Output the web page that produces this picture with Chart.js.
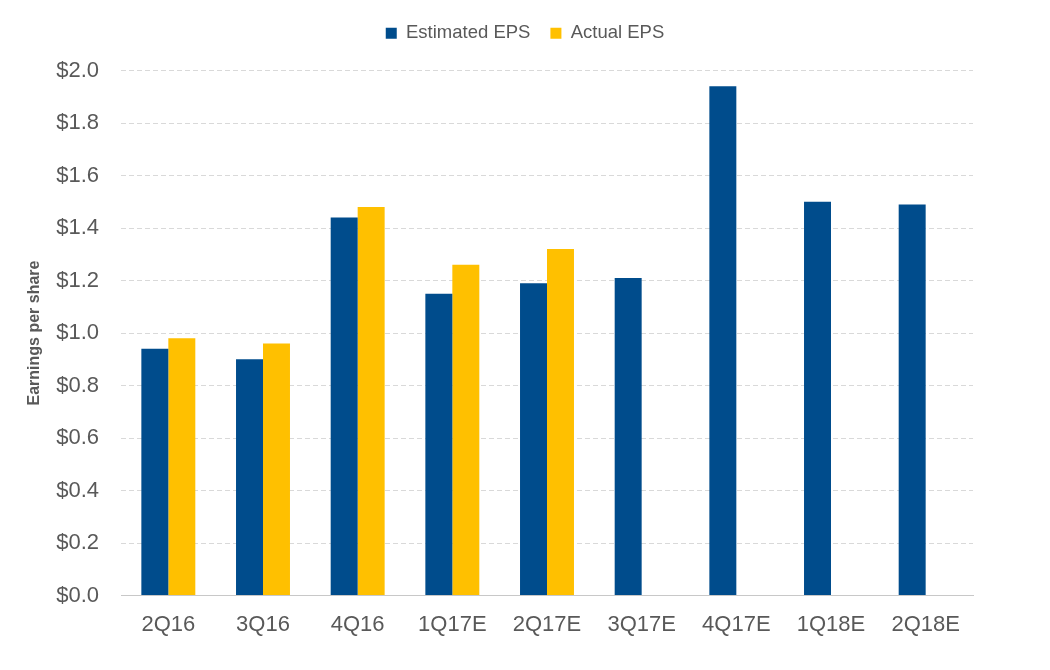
<!DOCTYPE html>
<html>
<head>
<meta charset="utf-8">
<script src="https://cdn.jsdelivr.net/npm/chart.js@4/dist/chart.umd.min.js"></script>
<style>
html,body{margin:0;padding:0;background:#fff;}
#wrap{width:1050px;height:670px;position:relative;}
</style>
</head>
<body>
<div id="wrap"><canvas id="c" width="1050" height="670"></canvas></div>
<script>
const categories = ['2Q16','3Q16','4Q16','1Q17E','2Q17E','3Q17E','4Q17E','1Q18E','2Q18E'];
const estimatedEPS = [0.94, 0.90, 1.44, 1.15, 1.19, 1.21, 1.94, 1.50, 1.49];
const actualEPS = [0.98, 0.96, 1.48, 1.26, 1.32, null, null, null, null];
const yTicks = [0, 0.2, 0.4, 0.6, 0.8, 1.0, 1.2, 1.4, 1.6, 1.8, 2.0];

Chart.defaults.font.family = 'Arial, "Liberation Sans", sans-serif';
Chart.defaults.color = '#595959';

const legendSpace = {
  id: 'legendSpace',
  beforeInit(chart) {
    const orig = chart.legend.fit;
    chart.legend.fit = function() { orig.call(this); this.height += 18; };
  }
};

new Chart(document.getElementById('c'), {
  type: 'bar',
  data: {
    labels: categories,
    datasets: [
      {label: 'Estimated EPS', data: estimatedEPS, backgroundColor: '#004C8C', borderWidth: 0},
      {label: 'Actual EPS', data: actualEPS, backgroundColor: '#FFC000', borderWidth: 0}
    ]
  },
  plugins: [legendSpace],
  options: {
    responsive: false,
    animation: false,
    layout: {padding: {left: 0, right: 0, top: 4, bottom: 16}},
    datasets: {bar: {barPercentage: 1, categoryPercentage: 0.57}},
    plugins: {
      legend: {
        position: 'top',
        labels: {boxWidth: 11, boxHeight: 11, font: {size: 18.5}, color: '#595959', padding: 20}
      },
      tooltip: {enabled: false}
    },
    scales: {
      x: {
        grid: {display: false, drawTicks: false},
        border: {display: true, color: '#c8c8c8', width: 1},
        ticks: {font: {size: 22}, color: '#595959', padding: 16}
      },
      y: {
        min: 0, max: 2,
        afterBuildTicks: (s) => { s.ticks = yTicks.map(v => ({value: v})); },
        afterFit: (s) => { s.width = 121; },
        grid: {color: '#d9d9d9', drawTicks: false, lineWidth: 1},
        border: {display: false, dash: [5, 3]},
        ticks: {font: {size: 22}, color: '#595959', padding: 22,
          callback: (v) => '$' + Number(v).toFixed(1)},
        title: {display: true, text: 'Earnings per share', font: {size: 16, weight: 'bold'}, color: '#595959', padding: {top: 25, bottom: 18}}
      },
      yRight: {
        position: 'right',
        display: true,
        min: 0, max: 2,
        afterFit: (s) => { s.width = 77; },
        grid: {display: false, drawTicks: false},
        border: {display: false},
        ticks: {display: false}
      }
    }
  }
});
</script>
</body>
</html>
